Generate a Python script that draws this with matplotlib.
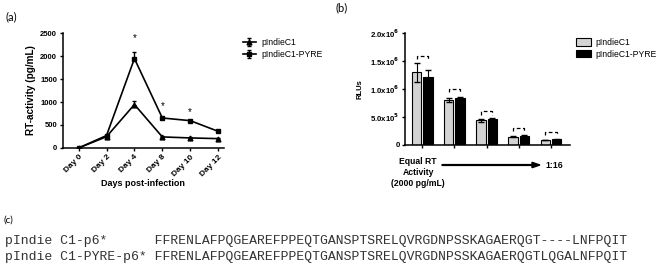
import matplotlib.pyplot as plt
import numpy as np

# panel (a) data
days = ["Day 0", "Day 2", "Day 4", "Day 8", "Day 10", "Day 12"]
rt_c1 = [0, 245, 945, 240, 218, 203]
rt_c1_err = [0, 20, 80, 15, 12, 10]
rt_pyre = [0, 270, 1945, 652, 594, 362]
rt_pyre_err = [0, 20, 150, 25, 25, 20]
star_days = ["Day 4", "Day 8", "Day 10"]
star_heights = [2390, 920, 783]

# panel (b) data
rlu_c1 = [1.30e6, 0.806e6, 0.44e6, 0.15e6, 0.09e6]
rlu_c1_err = [0.17e6, 0.03e6, 0.025e6, 0.01e6, 0.006e6]
rlu_pyre = [1.22e6, 0.84e6, 0.47e6, 0.167e6, 0.10e6]
rlu_pyre_err = [0.12e6, 0.02e6, 0.015e6, 0.01e6, 0.006e6]
bracket_heights = [1.59e6, 1.0e6, 0.6e6, 0.31e6, 0.24e6]
rlu_ticks = [0, 5e5, 1e6, 1.5e6, 2e6]
rlu_ticklabels = ["0", r"5.0x10$^5$", r"1.0x10$^6$", r"1.5x10$^6$", r"2.0x10$^6$"]

# panel (c) sequences
seq_names = ["pIndie C1-p6*", "pIndie C1-PYRE-p6*"]
seq_values = [
    "FFRENLAFPQGEAREFPPEQTGANSPTSRELQVRGDNPSSKAGAERQGT----LNFPQIT",
    "FFRENLAFPQGEAREFPPEQTGANSPTSRELQVRGDNPSSKAGAERQGTLQGALNFPQIT",
]

plt.rcParams["font.family"] = ["Liberation Sans", "DejaVu Sans"]
plt.rcParams["mathtext.default"] = "bf"

fig = plt.figure(figsize=(6.6, 2.69), dpi=100)

# ---- panel (a)
ax1 = fig.add_axes([0.095, 0.450, 0.244, 0.427])
x = np.arange(len(days))
ax1.errorbar(x, rt_c1, yerr=[np.zeros(len(x)), rt_c1_err], color="k", marker="^",
             ms=3.5, lw=1.2, capsize=1.5, elinewidth=1, label="pIndieC1")
ax1.errorbar(x, rt_pyre, yerr=[np.zeros(len(x)), rt_pyre_err], color="k", marker="s",
             ms=3.5, lw=1.2, capsize=1.5, elinewidth=1, label="pIndieC1-PYRE")
for d, h in zip(star_days, star_heights):
    ax1.text(days.index(d), h, "*", ha="center", va="center", fontsize=7)
ax1.set_xlim(-0.57, 5.2)
ax1.set_ylim(0, 2500)
ax1.set_yticks([0, 500, 1000, 1500, 2000, 2500])
ax1.set_xticks(x)
ax1.set_xticklabels(days, rotation=45, ha="right", rotation_mode="anchor", fontsize=6,
                    fontweight="bold")
for lab in ax1.get_yticklabels():
    lab.set_fontsize(5.5)
    lab.set_fontweight("bold")
ax1.set_ylabel("RT-activity (pg/mL)", fontsize=7.2, fontweight="bold", labelpad=3)
ax1.set_xlabel("Days post-infection", fontsize=6.5, fontweight="bold", labelpad=1)
ax1.spines["top"].set_visible(False)
ax1.spines["right"].set_visible(False)
ax1.tick_params(length=2.5, width=1, pad=1.5)
for s in ["left", "bottom"]:
    ax1.spines[s].set_linewidth(1.1)
ax1.legend(loc="upper left", bbox_to_anchor=(0.361, 0.875), bbox_transform=fig.transFigure,
           frameon=False, fontsize=6.2, handlelength=1.6, handletextpad=0.6,
           labelspacing=0.35, borderpad=0)

# ---- panel (b)
ax2 = fig.add_axes([0.614, 0.461, 0.25, 0.416])
g = np.arange(len(rlu_c1))
off, w = 0.175, 0.29
ax2.bar(g - off, rlu_c1, w, color="#d3d3d3", edgecolor="k", lw=0.8, label="pIndieC1")
ax2.bar(g + off, rlu_pyre, w, color="k", edgecolor="k", lw=0.8, label="pIndieC1-PYRE")
ax2.errorbar(g - off, rlu_c1, yerr=rlu_c1_err, fmt="none", ecolor="k", capsize=2, elinewidth=0.8)
ax2.errorbar(g + off, rlu_pyre, yerr=rlu_pyre_err, fmt="none", ecolor="k", capsize=2,
             elinewidth=0.8)
for gi, h in zip(g, bracket_heights):
    ax2.plot([gi - off, gi - off, gi + off, gi + off], [h - 0.06e6, h, h, h - 0.06e6],
             color="k", lw=0.9, ls=(0, (3, 2)))
ax2.set_xlim(-0.53, 4.6)
ax2.set_ylim(0, 2e6)
ax2.set_yticks(rlu_ticks)
ax2.set_yticklabels(rlu_ticklabels, fontsize=5.6, fontweight="bold")
ax2.set_xticks(g)
ax2.set_xticklabels([])
ax2.set_ylabel("RLUs", fontsize=5.5, fontweight="bold", labelpad=5)
ax2.spines["top"].set_visible(False)
ax2.spines["right"].set_visible(False)
ax2.tick_params(length=2.5, width=1, pad=1.5)
for s in ["left", "bottom"]:
    ax2.spines[s].set_linewidth(1.1)
ax2.legend(loc="upper left", bbox_to_anchor=(0.866, 0.875), bbox_transform=fig.transFigure,
           frameon=False, fontsize=6.2, handlelength=1.7, handleheight=1.0, handletextpad=0.6,
           labelspacing=0.3, borderpad=0)

fig.text(418 / 660, 1 - 172.5 / 269, "Equal RT\nActivity\n(2000 pg/mL)", ha="center",
         va="center", fontsize=6.2, fontweight="bold", linespacing=1.3)
fig.patches.append(plt.matplotlib.patches.FancyArrow(
    442 / 660, 1 - 165 / 269, 90 / 660, 0, width=0.003, head_width=0.02, head_length=0.012,
    length_includes_head=False, color="k", transform=fig.transFigure, figure=fig))
fig.text(545 / 660, 1 - 165 / 269, "1:16", ha="left", va="center", fontsize=6.2,
         fontweight="bold")

# ---- panel labels
fig.text(5 / 660, 1 - 17 / 269, "(a)", fontsize=8, family="Lato", va="center")
fig.text(335 / 660, 1 - 8 / 269, "(b)", fontsize=8, family="Lato", va="center")
fig.text(3 / 660, 1 - 220 / 269, "(c)", fontsize=7, family="Lato", va="center")

# ---- panel (c)
for i, (n, s) in enumerate(zip(seq_names, seq_values)):
    fig.text(5 / 660, 1 - (241 + 16 * i) / 269, n.ljust(19) + s, family="Liberation Mono",
             fontsize=9.43, va="center", color="#333333")

fig.savefig("out.png", dpi=100)
